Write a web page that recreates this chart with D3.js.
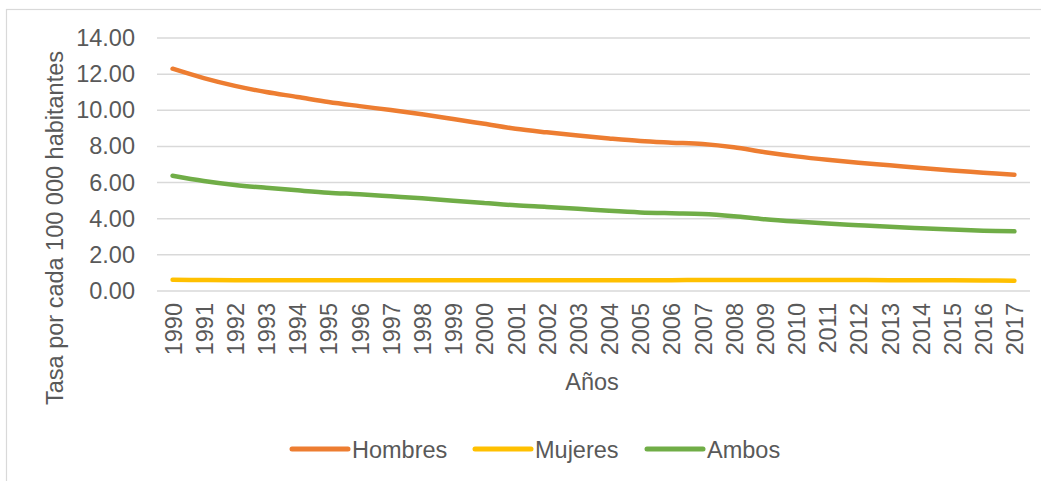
<!DOCTYPE html>
<html><head><meta charset="utf-8">
<script src="https://cdn.jsdelivr.net/npm/d3@7"></script>
<style>
html,body{margin:0;padding:0;background:#fff;}
svg{display:block;font-family:"Liberation Sans",Arial,sans-serif;}
</style></head>
<body>
<svg id="chart" width="1041" height="481"></svg>
<script>
const years = ["1990","1991","1992","1993","1994","1995","1996","1997","1998","1999","2000","2001","2002","2003","2004","2005","2006","2007","2008","2009","2010","2011","2012","2013","2014","2015","2016","2017"];
const hombres = [12.30,11.78,11.35,11.01,10.74,10.46,10.23,10.01,9.78,9.52,9.25,8.98,8.78,8.60,8.44,8.30,8.21,8.13,7.95,7.68,7.45,7.26,7.10,6.96,6.81,6.67,6.55,6.43];
const mujeres = [0.62,0.61,0.60,0.60,0.60,0.60,0.60,0.60,0.60,0.60,0.60,0.60,0.60,0.60,0.60,0.60,0.60,0.61,0.61,0.61,0.61,0.61,0.61,0.60,0.60,0.59,0.58,0.57];
const ambos = [6.38,6.09,5.87,5.71,5.57,5.44,5.35,5.24,5.13,5.00,4.87,4.74,4.65,4.55,4.44,4.35,4.30,4.26,4.14,3.97,3.84,3.73,3.64,3.55,3.47,3.40,3.34,3.30];
const yTicks = [0,2,4,6,8,10,12,14];
const seriesNames = ["Hombres","Mujeres","Ambos"];
const seriesColors = ["#ED7D31","#FFC000","#70AD47"];
const yTitle = "Tasa por cada 100 000 habitantes";
const xTitle = "Años";

const svg = d3.select("#chart");
const txt = "#595959";
const fs = 23.5;

// chart border
svg.append("rect").attr("x",6.5).attr("y",9.5).attr("width",1040).attr("height",480)
  .attr("fill","none").attr("stroke","#d9d9d9").attr("stroke-width",1.2);

const x = d3.scalePoint().domain(years).range([157,1030]).padding(0.5);
const y = d3.scaleLinear().domain([0,14]).range([291,38]);

// gridlines
svg.append("g").selectAll("line").data(yTicks).join("line")
  .attr("x1",157).attr("x2",1030)
  .attr("y1",d=>y(d)).attr("y2",d=>y(d))
  .attr("stroke","#d9d9d9").attr("stroke-width",1.5);

// y axis
const ya = svg.append("g").attr("transform","translate(157,0)")
  .call(d3.axisLeft(y).tickValues(yTicks).tickFormat(d3.format(".2f")).tickSize(0).tickPadding(22));
ya.select(".domain").remove();
ya.selectAll("text").attr("fill",txt).style("font-size",fs+"px").style("font-family","Liberation Sans, Arial, sans-serif");

// x axis
const xa = svg.append("g").attr("transform","translate(0,291)")
  .call(d3.axisBottom(x).tickSize(0));
xa.select(".domain").remove();
xa.selectAll("text")
  .attr("fill",txt).style("font-size",fs+"px").style("font-family","Liberation Sans, Arial, sans-serif")
  .attr("transform","rotate(-90)")
  .attr("x",-12).attr("y",0).attr("dy","0.36em")
  .attr("text-anchor","end");

// lines
const line = d3.line().x((d,i)=>x(years[i])).y(d=>y(d)).curve(d3.curveCatmullRom.alpha(0.5));
const allSeries = [hombres,mujeres,ambos];
svg.append("g").selectAll("path").data(allSeries).join("path")
  .attr("d",d=>line(d))
  .attr("fill","none")
  .attr("stroke",(d,i)=>seriesColors[i])
  .attr("stroke-width",4.5)
  .attr("stroke-linecap","round")
  .attr("stroke-linejoin","round");

// axis titles
svg.append("text").attr("transform","translate(63,228) rotate(-90)")
  .attr("text-anchor","middle").attr("fill",txt).style("font-size",fs+"px").text(yTitle);
svg.append("text").attr("x",592).attr("y",390)
  .attr("text-anchor","middle").attr("fill",txt).style("font-size",fs+"px").text(xTitle);

// legend
const legX = [292,475,647];
const lg = svg.append("g");
seriesNames.forEach((n,i)=>{
  lg.append("line").attr("x1",legX[i]).attr("x2",legX[i]+56).attr("y1",449).attr("y2",449)
    .attr("stroke",seriesColors[i]).attr("stroke-width",5).attr("stroke-linecap","round");
  lg.append("text").attr("x",legX[i]+60).attr("y",457.5).attr("fill",txt)
    .style("font-size",fs+"px").text(n);
});
</script>
</body></html>
